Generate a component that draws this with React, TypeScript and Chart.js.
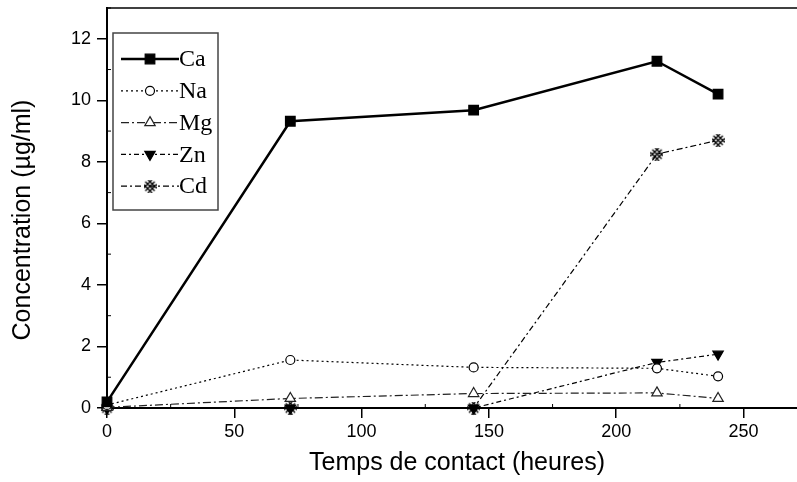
import React, { useEffect, useRef } from 'react';
import { Chart, registerables } from 'chart.js';
import { drawPoint } from 'chart.js/helpers';
Chart.register(...registerables);

const hours = [0, 72, 144, 216, 240];
const ca = [0.2, 9.32, 9.68, 11.27, 10.2];
const na = [0.1, 1.56, 1.32, 1.29, 1.03];
const mg = [0.02, 0.31, 0.47, 0.49, 0.31];
const zn = [0, 0, 0, 1.48, 1.75];
const cd = [0, 0, 0, 8.25, 8.7];
const seriesNames = ['Ca', 'Na', 'Mg', 'Zn', 'Cd'];
const xTickValues = [0, 50, 100, 150, 200, 250];
const yTickValues = [0, 2, 4, 6, 8, 10, 12];
const xTitle = 'Temps de contact (heures)';
const yTitle = 'Concentration (µg/ml)';

function makeCdMarker(): HTMLCanvasElement {
  const c = document.createElement('canvas');
  c.width = 13; c.height = 13;
  const g = c.getContext('2d')!;
  g.save();
  g.beginPath();
  g.arc(6.5, 6.5, 6.6, 0, Math.PI * 2);
  g.clip();
  g.strokeStyle = '#000';
  g.lineWidth = 1.3;
  for (const d of [-4.5, 0, 4.5]) {
    g.beginPath(); g.moveTo(0, d); g.lineTo(13, 13 + d); g.stroke();
    g.beginPath(); g.moveTo(13, d); g.lineTo(0, 13 + d); g.stroke();
  }
  g.restore();
  return c;
}

export default function App() {
  const ref = useRef<HTMLCanvasElement>(null);
  useEffect(() => {
    const cdMarker = makeCdMarker();
    const toPts = (arr: number[]) => hours.map((h, i) => ({ x: h, y: arr[i] }));
    const styles = [
      { data: ca, borderWidth: 2.5, borderDash: [] as number[], pointStyle: 'rect' as any, pointRadius: 6.8, pointRotation: 0, fill: '#000', color: '#000' },
      { data: na, borderWidth: 1.2, borderDash: [2, 3], pointStyle: 'circle' as any, pointRadius: 4.5, pointRotation: 0, fill: '#fff', color: '#000' },
      { data: mg, borderWidth: 1.2, borderDash: [8, 3, 2, 3], pointStyle: 'triangle' as any, pointRadius: 6, pointRotation: 0, fill: '#fff', color: '#222' },
      { data: zn, borderWidth: 1.2, borderDash: [5, 3, 2, 3], pointStyle: 'triangle' as any, pointRadius: 6, pointRotation: 180, fill: '#000', color: '#000' },
      { data: cd, borderWidth: 1.2, borderDash: [6, 3, 2, 3], pointStyle: cdMarker as any, pointRadius: 7, pointRotation: 0, fill: '#fff', color: '#000' },
    ];
    const datasets = styles.map((s, i) => ({
      label: seriesNames[i],
      data: toPts(s.data),
      borderColor: s.color,
      borderWidth: s.borderWidth,
      borderDash: s.borderDash,
      pointStyle: s.pointStyle,
      pointRadius: s.pointRadius,
      pointRotation: s.pointRotation,
      pointBackgroundColor: s.fill,
      pointBorderColor: s.color,
      pointBorderWidth: 1.2,
      tension: 0,
      fill: false,
      clip: false,
      order: i,
    }));

    const decor = {
      id: 'decor',
      afterDraw(chart: any) {
        const { ctx, chartArea: a, scales } = chart;
        const xs = scales.x, ys = scales.y;
        ctx.save();
        ctx.strokeStyle = '#000';
        ctx.lineWidth = 1.5;
        ctx.setLineDash([]);
        ctx.beginPath(); ctx.moveTo(a.left, a.top); ctx.lineTo(a.right, a.top); ctx.stroke();
        // minor ticks
        ctx.lineWidth = 1;
        for (let i = 0; i < xTickValues.length; i++) {
          const v = xTickValues[i] + 25;
          if (v > xs.max) break;
          const px = xs.getPixelForValue(v);
          ctx.beginPath(); ctx.moveTo(px, a.bottom); ctx.lineTo(px, a.bottom - 4); ctx.stroke();
        }
        for (let i = 0; i < yTickValues.length; i++) {
          const v = yTickValues[i] + 1;
          if (v > ys.max) break;
          const py = ys.getPixelForValue(v);
          ctx.beginPath(); ctx.moveTo(a.left, py); ctx.lineTo(a.left + 4, py); ctx.stroke();
        }
        // legend
        const bx = 113, by = 33, bw = 105, bh = 177;
        ctx.fillStyle = '#fff';
        ctx.fillRect(bx, by, bw, bh);
        ctx.strokeStyle = '#444';
        ctx.lineWidth = 1.5;
        ctx.strokeRect(bx, by, bw, bh);
        ctx.font = '24px "Liberation Serif", "Times New Roman", serif';
        ctx.textBaseline = 'middle';
        ctx.textAlign = 'left';
        styles.forEach((s, i) => {
          const y = 59 + i * 31.8;
          ctx.strokeStyle = s.color;
          ctx.lineWidth = s.borderWidth;
          ctx.setLineDash(s.borderDash);
          ctx.beginPath(); ctx.moveTo(121, y); ctx.lineTo(179, y); ctx.stroke();
          ctx.setLineDash([]);
          ctx.fillStyle = s.fill;
          ctx.strokeStyle = s.color;
          ctx.lineWidth = 1.2;
          drawPoint(ctx, { pointStyle: s.pointStyle, rotation: s.pointRotation, radius: s.pointRadius, borderWidth: 1.2 }, 150, y);
          ctx.fillStyle = '#000';
          ctx.fillText(seriesNames[i], 179, y + 1);
        });
        // axis titles
        ctx.fillStyle = '#000';
        ctx.font = '25px "Liberation Sans", Arial, sans-serif';
        ctx.textAlign = 'center';
        ctx.textBaseline = 'middle';
        ctx.fillText(xTitle, 457, 463);
        ctx.translate(23, 220);
        ctx.rotate(-Math.PI / 2);
        ctx.fillText(yTitle, 0, 0);
        ctx.restore();
      },
    };

    const zeroPad = (s: any) => { s.paddingTop = 0; s.paddingBottom = 0; s.paddingLeft = 0; s.paddingRight = 0; };

    const chart = new Chart(ref.current!, {
      type: 'line',
      data: { datasets: datasets as any },
      plugins: [decor],
      options: {
        animation: false,
        responsive: false,
        layout: { autoPadding: false, padding: { top: 8, right: 0, left: 0, bottom: 0 } },
        plugins: { legend: { display: false }, tooltip: { enabled: false } },
        scales: {
          x: {
            type: 'linear',
            min: 0,
            max: 271,
            afterBuildTicks: (s: any) => { s.ticks = xTickValues.map((v) => ({ value: v })); },
            afterFit: (s: any) => { s.height = 74; zeroPad(s); },
            ticks: { color: '#000', font: { family: '"Liberation Sans", Arial, sans-serif', size: 18 }, padding: 3, maxRotation: 0 },
            grid: { drawOnChartArea: false, drawTicks: true, tickLength: 10, color: '#000', lineWidth: 1.5 },
            border: { display: true, color: '#000', width: 2 },
          },
          y: {
            type: 'linear',
            min: 0,
            max: 13,
            afterBuildTicks: (s: any) => { s.ticks = yTickValues.map((v) => ({ value: v })); },
            afterFit: (s: any) => { s.width = 107; zeroPad(s); },
            ticks: { color: '#000', font: { family: '"Liberation Sans", Arial, sans-serif', size: 18 }, padding: 6 },
            grid: { drawOnChartArea: false, drawTicks: true, tickLength: 10, color: '#000', lineWidth: 1.5 },
            border: { display: true, color: '#000', width: 2 },
          },
        },
      },
    });
    return () => chart.destroy();
  }, []);
  return (
    <div style={{ position: 'fixed', left: 0, top: 0, width: 797, height: 482, background: '#fff' }}>
      <canvas ref={ref} width={797} height={482} style={{ display: 'block', width: 797, height: 482 }} />
    </div>
  );
}
